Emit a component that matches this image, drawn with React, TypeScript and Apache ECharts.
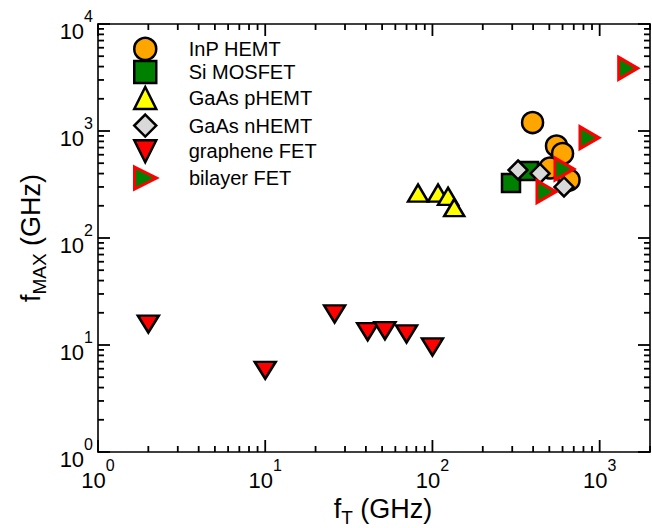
import React, { useEffect, useRef } from 'react';
import * as echarts from 'echarts';

// ---- data (GHz) ----
const inpX = [397, 552, 600, 505, 656];
const inpY = [1200, 724, 616, 451, 348];
const siX = [295, 378];
const siY = [327, 423];
const phemtX = [82, 108, 124, 135];
const phemtY = [263, 263, 245, 192];
const nhemtX = [325, 440, 612];
const nhemtY = [432, 401, 300];
const grapheneX = [2, 10, 26, 41, 52, 70, 100];
const grapheneY = [15.7, 5.8, 19.5, 13.3, 13.6, 12.7, 9.6];
const bilayerX = [480, 615, 868, 1479];
const bilayerY = [271, 441, 866, 3855];

const seriesNames = ['InP HEMT', 'Si MOSFET', 'GaAs pHEMT', 'GaAs nHEMT', 'graphene FET', 'bilayer FET'];

// ---- axes ----
const X_MIN = 1;
const X_MAX = 2000;
const Y_MIN = 1;
const Y_MAX = 10000;
const xMajor = [1, 10, 100, 1000];
const xMinor = [2, 3, 4, 5, 6, 7, 8, 9, 20, 30, 40, 50, 60, 70, 80, 90, 200, 300, 400, 500, 600, 700, 800, 900, 2000];
const yMajor = [1, 10, 100, 1000, 10000];
const yMinor = [2, 3, 4, 5, 6, 7, 8, 9, 20, 30, 40, 50, 60, 70, 80, 90, 200, 300, 400, 500, 600, 700, 800, 900,
  2000, 3000, 4000, 5000, 6000, 7000, 8000, 9000];

const legendCenters = [47.7, 70.7, 96.7, 124.3, 150, 176.5];

const FONT = "'Liberation Sans', Arial, Helvetica, sans-serif";

const SQUARE = 'path://M0,0L10,0L10,10L0,10Z';
const DIAMOND = 'path://M5,0L10,5L5,10L0,5Z';
const TRI_UP = 'path://M5,0L10,10L0,10Z';
const TRI_DOWN = 'path://M0,0L10,0L5,10Z';
const TRI_RIGHT = 'path://M0,0L10,5L0,10Z';

const pairs = (xs: number[], ys: number[]) => xs.map((x, i) => [x, ys[i]]);

const labelRich = {
  b: { fontSize: 22, fontFamily: FONT, color: '#000', padding: [15, 0, 0, 0] },
  s: { fontSize: 16, fontFamily: FONT, color: '#000', padding: [0, 0, 15, 0] },
};
const labelFmt = (v: number) => `{b|10}{s|${Math.round(Math.log10(v))}}`;

const axisLineStyle = { color: '#000', width: 1.6 };

const titleRich = {
  a: { fontSize: 27, fontFamily: FONT, color: '#000', lineHeight: 27, verticalAlign: 'top' },
  sub: { fontSize: 19, fontFamily: FONT, color: '#000', lineHeight: 31, verticalAlign: 'bottom' },
};

function mainAxis(kind: 'x' | 'y', position: string, min: number, max: number, labels: boolean, extra: any = {}) {
  return {
    type: 'log',
    logBase: 10,
    min,
    max,
    position,
    axisLine: { show: true, onZero: false, lineStyle: axisLineStyle },
    axisTick: { show: false },
    axisLabel: labels
      ? {
          show: true,
          customValues: kind === 'x' ? xMajor : yMajor,
          formatter: labelFmt,
          rich: labelRich,
          margin: kind === 'x' ? 2 : 5,
        }
      : { show: false },
    splitLine: { show: false },
    ...extra,
  };
}

const baseItem = { borderColor: '#000', borderWidth: 2.5, borderJoin: 'miter', borderMiterLimit: 10, opacity: 1 };

const option: any = {
  animation: false,
  backgroundColor: '#fff',
  grid: { left: 98, right: 2, top: 24, bottom: 76, containLabel: false, outerBoundsMode: 'none' },
  xAxis: [
    mainAxis('x', 'bottom', X_MIN, X_MAX, true, {
      name: '{a|f}{sub|T}{a| (GHz)}',
      nameLocation: 'middle',
      nameGap: 38,
      nameTextStyle: { rich: titleRich, padding: [0, 0, 0, 18] },
    }),
    mainAxis('x', 'top', X_MIN, X_MAX, false),
  ],
  yAxis: [
    mainAxis('y', 'left', Y_MIN, Y_MAX, true, {
      name: '{a|f}{sub|MAX}{a| (GHz)}',
      nameLocation: 'middle',
      nameGap: 49,
      nameRotate: 90,
      nameTextStyle: { rich: titleRich },
    }),
    mainAxis('y', 'right', Y_MIN, Y_MAX, false),
  ],
  legend: seriesNames.map((n, i) => ({
    data: [n],
    orient: 'vertical',
    left: 133,
    top: legendCenters[i] - 11,
    itemWidth: 25,
    itemHeight: 22,
    padding: 0,
    selectedMode: false,
    symbolKeepAspect: true,
    textStyle: { fontSize: 20, fontFamily: FONT, color: '#000', padding: [0, 0, 0, 26] },
    itemStyle: { borderWidth: 'inherit', opacity: 1 },
  })),
  series: [
    {
      name: seriesNames[0], type: 'scatter', symbol: 'circle', symbolSize: 21, z: 4,
      itemStyle: { ...baseItem, color: '#FFA500' }, data: pairs(inpX, inpY),
    },
    {
      name: seriesNames[1], type: 'scatter', symbol: SQUARE, symbolSize: 18, z: 4,
      itemStyle: { ...baseItem, color: '#008000' }, data: pairs(siX, siY),
    },
    {
      name: seriesNames[2], type: 'scatter', symbol: TRI_UP, symbolSize: [20, 17], z: 4,
      itemStyle: { ...baseItem, color: '#FFFF00' }, data: pairs(phemtX, phemtY),
    },
    {
      name: seriesNames[3], type: 'scatter', symbol: DIAMOND, symbolSize: 19, z: 4,
      itemStyle: { ...baseItem, color: '#D9D9D9' }, data: pairs(nhemtX, nhemtY),
    },
    {
      name: seriesNames[4], type: 'scatter', symbol: TRI_DOWN, symbolSize: [21, 17], z: 4,
      itemStyle: { ...baseItem, color: '#FF0000' }, data: pairs(grapheneX, grapheneY),
    },
    {
      name: seriesNames[5], type: 'scatter', symbol: TRI_RIGHT, symbolSize: [19, 22], z: 4,
      itemStyle: { ...baseItem, color: '#008000', borderColor: '#FF0000', borderWidth: 3 }, data: pairs(bilayerX, bilayerY),
    },
  ],
};

// tick marks placed through the chart's own axis scales (convertToPixel)
function buildTicks(chart: any) {
  const toX = (v: number) => chart.convertToPixel({ xAxisIndex: 0 }, v) as number;
  const toY = (v: number) => chart.convertToPixel({ yAxisIndex: 0 }, v) as number;
  const left = toX(X_MIN);
  const right = toX(X_MAX);
  const bottom = toY(Y_MIN);
  const top = toY(Y_MAX);
  const els: any[] = [];
  const add = (x1: number, y1: number, x2: number, y2: number) => {
    if (![x1, y1, x2, y2].every((n) => typeof n === 'number' && isFinite(n))) return;
    els.push({
      type: 'line',
      z: 3,
      shape: { x1, y1, x2, y2 },
      style: { stroke: '#000', lineWidth: 1.8 },
    });
  };
  xMajor.forEach((v) => { const x = toX(v); add(x, bottom, x, bottom - 12); add(x, top, x, top + 12); });
  xMinor.forEach((v) => { const x = toX(v); add(x, bottom, x, bottom - 6); add(x, top, x, top + 6); });
  yMajor.forEach((v) => { const y = toY(v); add(left, y, left + 12, y); add(right, y, right - 12, y); });
  yMinor.forEach((v) => { const y = toY(v); add(left, y, left + 6, y); add(right, y, right - 6, y); });
  return els;
}

export default function App() {
  const ref = useRef<HTMLDivElement>(null);
  useEffect(() => {
    document.body.style.margin = '0';
    const chart = echarts.init(ref.current as HTMLDivElement, null, { renderer: 'svg' });
    chart.setOption(option);
    chart.setOption({ graphic: { elements: buildTicks(chart) } });
    return () => chart.dispose();
  }, []);
  return <div ref={ref} style={{ width: 652, height: 528 }} />;
}
